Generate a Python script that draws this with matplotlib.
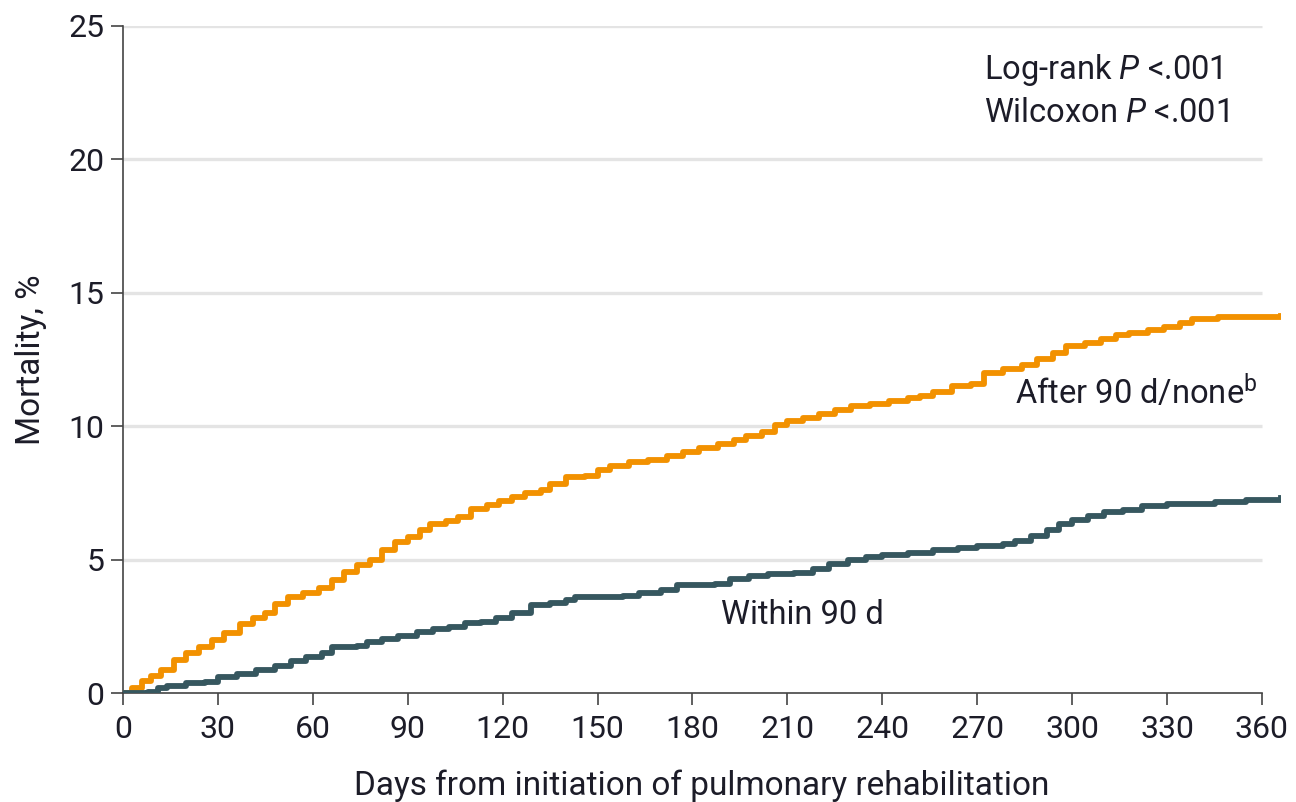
import matplotlib
matplotlib.use('Agg')
import matplotlib.pyplot as plt
from matplotlib import font_manager

# Kaplan-Meier step knots (days, mortality %)
after_days = [0, 3, 6, 9, 12, 16, 20, 24, 28, 32, 37, 41, 45, 48, 52, 57, 62, 66, 70, 74,
              78, 82, 86, 90, 94, 97, 102, 106, 110, 115, 119, 123, 127, 132, 135, 140, 146,
              150, 154, 160, 166, 172, 177, 182, 188, 193, 197, 202, 206, 210, 215, 220, 225,
              230, 236, 242, 248, 252, 256, 262, 268, 272, 278, 284, 289, 294, 298, 304, 309,
              314, 318, 324, 329, 334, 338, 346, 366]
after_mort = [0, 0.2, 0.45, 0.65, 0.86, 1.25, 1.5, 1.72, 2.0, 2.25, 2.6, 2.8, 3.0, 3.35, 3.58,
              3.75, 3.95, 4.25, 4.55, 4.8, 5.0, 5.35, 5.65, 5.85, 6.1, 6.35, 6.45, 6.6, 6.9,
              7.05, 7.2, 7.35, 7.5, 7.6, 7.85, 8.1, 8.15, 8.35, 8.5, 8.65, 8.75, 8.9, 9.05,
              9.2, 9.35, 9.5, 9.65, 9.8, 10.05, 10.2, 10.3, 10.45, 10.6, 10.75, 10.85, 10.95,
              11.05, 11.15, 11.3, 11.5, 11.6, 12.0, 12.15, 12.3, 12.5, 12.75, 13.0, 13.1,
              13.25, 13.4, 13.5, 13.6, 13.7, 13.85, 14.0, 14.1, 14.13]

within_days = [0, 8, 11, 14, 20, 26, 30, 36, 42, 48, 53, 58, 63, 66, 74, 77, 82, 87, 93, 98,
               103, 108, 113, 118, 123, 129, 135, 140, 143, 158, 163, 170, 175, 187, 192, 198,
               204, 212, 218, 223, 229, 235, 240, 248, 256, 264, 270, 278, 282, 287, 292, 296,
               300, 305, 310, 316, 322, 330, 345, 355, 366]
within_mort = [0, 0.05, 0.18, 0.25, 0.38, 0.42, 0.6, 0.7, 0.85, 1.0, 1.2, 1.35, 1.5, 1.72,
               1.78, 1.92, 2.02, 2.15, 2.3, 2.4, 2.48, 2.62, 2.68, 2.8, 3.0, 3.28, 3.38, 3.5,
               3.58, 3.62, 3.75, 3.85, 4.03, 4.08, 4.28, 4.38, 4.45, 4.5, 4.65, 4.82, 4.98,
               5.08, 5.17, 5.25, 5.35, 5.45, 5.52, 5.58, 5.7, 5.9, 6.1, 6.35, 6.5, 6.65, 6.78,
               6.85, 7.0, 7.1, 7.15, 7.25, 7.3]

x_ticks = list(range(0, 361, 30))
y_ticks = [0, 5, 10, 15, 20, 25]

ORANGE = '#F29100'
TEAL = '#36575F'
TEXT = '#1c1c28'
GRID = '#e4e4e4'

installed = {f.name for f in font_manager.fontManager.ttflist}
fam = 'Liberation Sans Narrow' if 'Liberation Sans Narrow' in installed else 'Roboto'
plt.rcParams['font.family'] = [fam, 'DejaVu Sans']
plt.rcParams['mathtext.fontset'] = 'custom'
plt.rcParams['mathtext.rm'] = fam
plt.rcParams['mathtext.it'] = fam + ':italic'

fig = plt.figure(figsize=(12.96, 8.02), dpi=100)
ax = fig.add_axes([0.0949, 0.1359, 0.8935, 0.8317])

for y in y_ticks[1:]:
    ax.hlines(y, 0, 360, color=GRID, lw=2.4, zorder=0)

ax.step(after_days, after_mort, where='post', color=ORANGE, lw=4.2, zorder=3)
ax.step(within_days, within_mort, where='post', color=TEAL, lw=4.2, zorder=3)

ax.set_xlim(0, 366)
ax.set_ylim(0, 25)
ax.set_xticks(x_ticks)
ax.set_yticks(y_ticks)
for s in ['top', 'right']:
    ax.spines[s].set_visible(False)
ax.spines['bottom'].set_bounds(0, 360)
for s in ['left', 'bottom']:
    ax.spines[s].set_color('#444444')
    ax.spines[s].set_linewidth(1.2)
ax.tick_params(axis='both', direction='out', length=8.5, width=1.2, color='#444444',
               labelsize=23, labelcolor=TEXT)
ax.tick_params(axis='x', pad=7)
ax.tick_params(axis='y', pad=5)

ax.set_xlabel('Days from initiation of pulmonary rehabilitation', fontsize=24,
              color=TEXT, labelpad=19)
ax.set_ylabel('Mortality, %', fontsize=24, color=TEXT, labelpad=15)

ax.text(272, 23.35, r'Log-rank $\it{P}$ <.001', fontsize=23.5, color=TEXT, va='center')
ax.text(272, 21.74, r'Wilcoxon $\it{P}$ <.001', fontsize=23.5, color=TEXT, va='center')
ax.text(282, 11.24, r'After 90 d/none$^{\rm b}$', fontsize=23.5, color=TEXT, va='center')
ax.text(189, 2.92, 'Within 90 d', fontsize=23.5, color=TEXT, va='center')

fig.savefig('out.png', dpi=100, facecolor='white')
